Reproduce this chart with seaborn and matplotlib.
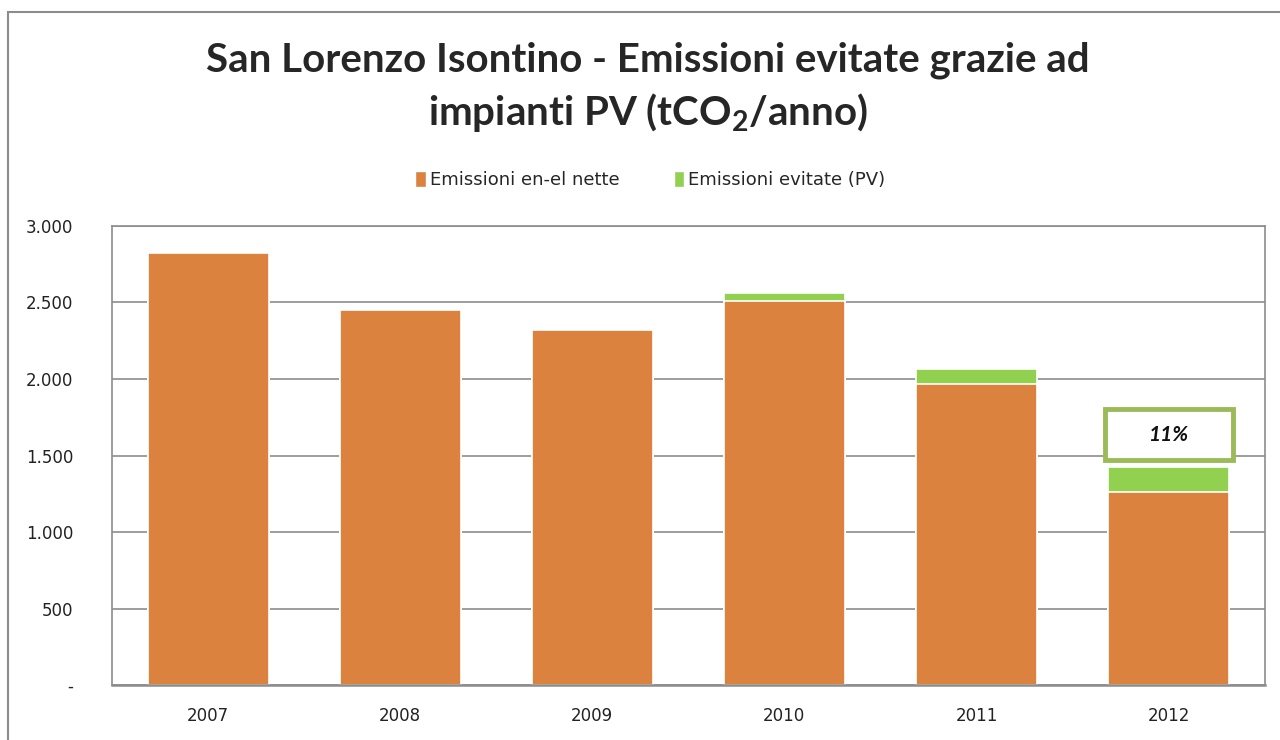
import matplotlib
matplotlib.use("Agg")
import matplotlib.pyplot as plt
import seaborn as sns
import pandas as pd
from matplotlib.patches import Patch, Rectangle
from matplotlib.ticker import FuncFormatter

# values (tCO2/anno)
years = ["2007", "2008", "2009", "2010", "2011", "2012"]
nette = [2824, 2451, 2320, 2510, 1967, 1263]
evitate = [0, 0, 0, 50, 96, 163]
share_label = "11%"

orange = "#DA823E"
green = "#92D050"

df = pd.DataFrame({"anno": years, "nette": nette, "evitate": evitate})
df["totale"] = df["nette"] + df["evitate"]

sns.set_style("white")
plt.rcParams["font.family"] = ["DejaVu Sans"]

fig = plt.figure(figsize=(12.8, 7.4), dpi=100)
ax = fig.add_axes([0.0875, 0.0743, 0.9005, 0.6203])

# stacked bars: total in green, net emissions in orange over it
sns.barplot(data=df, x="anno", y="totale", color=green, saturation=1,
            width=0.63, edgecolor="white", linewidth=1.2, ax=ax)
sns.barplot(data=df, x="anno", y="nette", color=orange, saturation=1,
            width=0.63, edgecolor="white", linewidth=1.2, ax=ax)

ax.set_ylim(0, 3000)
ax.set_xlim(-0.5, 5.5)
ax.set_yticks(range(0, 3001, 500))
ax.yaxis.set_major_formatter(FuncFormatter(
    lambda v, p: "-" if v == 0 else f"{int(v):,}".replace(",", ".")))
ax.grid(axis="y", color="#8c8c8c", linewidth=1.2)
ax.set_axisbelow(True)
for s in ax.spines.values():
    s.set_color("#8c8c8c")
    s.set_linewidth(1.2)
ax.spines["bottom"].set_linewidth(1.8)
ax.tick_params(axis="y", length=0, pad=28, labelsize=12, labelcolor="#222222")
ax.tick_params(axis="x", length=0, pad=16, labelsize=12, labelcolor="#222222")
ax.set_xlabel("")
ax.set_ylabel("")

# share of avoided emissions in the last year: framed label above the bar
last = len(years) - 1
box_mid = df["totale"].iloc[last] + 210
ax.add_patch(Rectangle((last - 0.333, box_mid - 165), 0.666, 330,
                       facecolor="white", edgecolor="#9BBB59", linewidth=3.5,
                       zorder=5))
ax.text(last, box_mid, share_label, ha="center", va="center", zorder=6,
        fontsize=15, fontstyle="italic", fontweight="bold", color="#111111",
        family="Lato")

fig.text(0.506, 0.918, "San Lorenzo Isontino - Emissioni evitate grazie ad",
         ha="center", va="center", fontsize=29, fontweight="bold", family="Lato")
fig.text(0.506, 0.848, r"impianti PV (tCO$_\mathregular{2}$/anno)",
         ha="center", va="center", fontsize=29, fontweight="bold", family="Lato")

handles = [Patch(facecolor=orange, edgecolor="white"),
           Patch(facecolor=green, edgecolor="white")]
fig.legend(handles, ["Emissioni en-el nette", "Emissioni evitate (PV)"],
           loc="center", bbox_to_anchor=(0.508, 0.757), ncol=2, frameon=False,
           fontsize=13, handlelength=0.6, handleheight=1.0, handletextpad=0.2,
           columnspacing=3.0)

# chart outer frame (top and left edges visible)
fig.patches.append(Rectangle((8 / 1280, -0.1), 1.2, (740 - 12) / 740 + 0.1,
                             transform=fig.transFigure, fill=False,
                             edgecolor="#8c8c8c", linewidth=1.5))

fig.savefig("out.png", dpi=100, facecolor="white")
